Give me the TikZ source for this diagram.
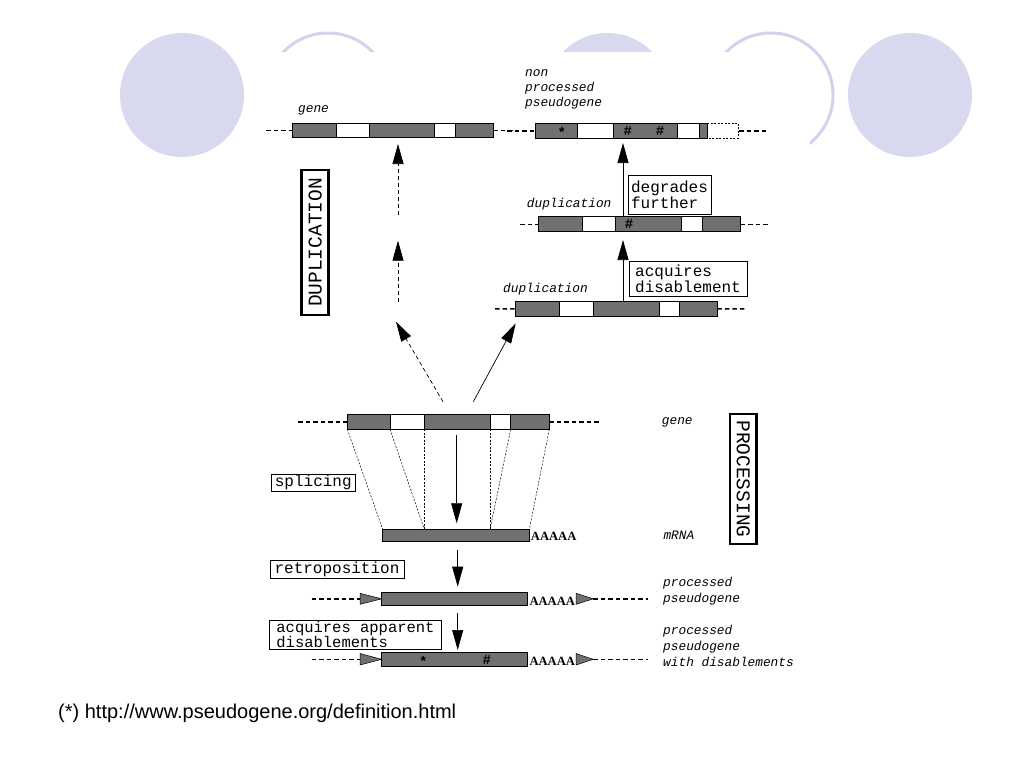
\documentclass[tikz,border=0pt]{standalone}
\usepackage{fontspec}
\setmainfont{Liberation Sans}
\setmonofont{Liberation Mono}
\newfontfamily\serifB{Liberation Serif}
\usetikzlibrary{arrows.meta}
\definecolor{circfill}{RGB}{216,216,238}
\definecolor{circline}{RGB}{210,210,236}
\definecolor{barg}{RGB}{112,112,112}
\tikzset{
 bar/.style={draw=black, line width=0.6pt, fill=barg, inner sep=0pt, outer sep=0pt, anchor=north west},
 wseg/.style={draw=black, line width=0.6pt, fill=white},
 flank/.style={line width=1.4pt, dash pattern=on 4.5pt off 3pt},
 splice/.style={line width=0.5pt, dash pattern=on 2pt off 1.5pt},
 duparr/.style={line width=0.7pt, dash pattern=on 4pt off 3pt, -{Triangle[length=20pt,width=11pt]}},
 solarr/.style={line width=0.7pt, -{Triangle[length=20pt,width=11pt]}},
 lbl/.style={font=\ttfamily\itshape\fontsize{12.8}{15}\selectfont, anchor=base west, inner sep=0pt},
 polya/.style={font=\serifB\bfseries\fontsize{12.6}{14}\selectfont, anchor=base west, inner sep=0pt},
 symb/.style={font=\ttfamily\bfseries\fontsize{14}{14}\selectfont, inner sep=0pt},
 boxlbl/.style={draw=black, line width=0.8pt, font=\ttfamily\fontsize{16}{16}\selectfont, align=left, inner sep=1pt},
 bigbox/.style={draw=black, line width=2.8pt, font=\ttfamily\fontsize{19.5}{20}\selectfont, inner sep=0pt},
 tri/.style={draw=black, line width=0.5pt, fill=barg}
}
\begin{document}
\begin{tikzpicture}[x=1pt,y=-1pt]
\useasboundingbox (0,0) rectangle (1024,768);
% background circles
\fill[circfill] (182,95) circle (62);
\draw[circline, line width=3pt] (328,95) circle (62);
\fill[circfill] (607.5,95) circle (62);
\draw[circline, line width=3pt] (771,95) circle (62);
\fill[circfill] (910,95) circle (62);
\fill[white] (262,52) rectangle (810,700);

% ---------- top gene ----------
\node[bar, minimum width=201pt, minimum height=14.4pt] (g1) at (292.3,123.3) {};
\draw[wseg] (336,123.3) rectangle (369,137.7);
\draw[wseg] (434,123.3) rectangle (455,137.7);
\draw[flank] (266,130.5) -- (g1.west);
\draw[flank] (g1.east) -- (513,130.5);
\node[lbl] (g1lbl) at (298,112.5) {gene};

% ---------- non processed pseudogene ----------
\node[bar, minimum width=172.3pt, minimum height=15pt] (np) at (535,123.3) {};
\draw[wseg] (577.7,123.3) rectangle (613.3,138.3);
\draw[wseg] (677.7,123.3) rectangle (699.3,138.3);
\draw[splice] (707.3,123.3) -- (738.3,123.3) -- (738.3,138.3) -- (707.3,138.3);
\draw[flank] (507,130.8) -- (np.west);
\draw[flank] (739,130.8) -- (767,130.8);
\node[symb] (npstar) at (561.7,132) {*};
\node[symb] (nph1) at (627.7,131) {\#};
\node[symb] (nph2) at (660,131) {\#};
\node[lbl] (np1) at (525,76.5) {non};
\node[lbl] (np2) at (525,91.5) {processed};
\node[lbl] (np3) at (525,106.5) {pseudogene};

% ---------- duplication 1 ----------
\node[bar, minimum width=202.4pt, minimum height=15pt] (d1) at (538.3,216.7) {};
\draw[wseg] (582,216.7) rectangle (615.7,231.7);
\draw[wseg] (681,216.7) rectangle (702.3,231.7);
\draw[flank] (520,224.2) -- (d1.west);
\draw[flank] (d1.east) -- (769,224.2);
\node[symb] (d1h) at (629,223.5) {\#};
\node[lbl] (d1lbl) at (526.7,207.5) {duplication};

% ---------- duplication 2 ----------
\node[bar, minimum width=201.6pt, minimum height=14.3pt] (d2) at (515.7,301.7) {};
\draw[wseg] (559,301.7) rectangle (593.3,316);
\draw[wseg] (659,301.7) rectangle (679,316);
\draw[flank] (495,308.8) -- (d2.west);
\draw[flank] (d2.east) -- (745,308.8);
\node[lbl] (d2lbl) at (503,292.5) {duplication};

% ---------- right column arrows and boxes ----------
\coordinate (r1a) at (623,216.7);
\coordinate (r1b) at (623,143);
\draw[solarr] (r1a) -- (r1b);
\coordinate (r2a) at (623,301.7);
\coordinate (r2b) at (623,240);
\draw[solarr] (r2a) -- (r2b);
\node[boxlbl, minimum width=83pt, minimum height=39pt] (degr) at (669.5,194.5) {degrades\\further};
\node[boxlbl, minimum width=118pt, minimum height=35pt] (acq) at (688,279.2) {acquires\\disablement};

% ---------- DUPLICATION ----------
\node[bigbox, rotate=90, minimum width=145pt, minimum height=27pt] (dupbox) at (315.3,242.5) {DUPLICATION};

% dashed duplication arrows
\coordinate (dA0) at (443,401.7);
\coordinate (dA1) at (396,321.7);
\draw[duparr] (dA0) -- (dA1);
\coordinate (dB0) at (398,301.7);
\coordinate (dB1) at (398,240.7);
\draw[duparr] (dB0) -- (dB1);
\coordinate (dC0) at (398,215);
\coordinate (dC1) at (398,144);
\draw[duparr] (dC0) -- (dC1);
\coordinate (sA0) at (473.3,401.7);
\coordinate (sA1) at (515.7,323.3);
\draw[solarr] (sA0) -- (sA1);

% ---------- lower gene ----------
\node[bar, minimum width=202pt, minimum height=15pt] (g2) at (347.3,414.3) {};
\draw[wseg] (390,414.3) rectangle (424.3,429.3);
\draw[wseg] (490,414.3) rectangle (510.7,429.3);
\draw[flank] (298,421.8) -- (g2.west);
\draw[flank] (g2.east) -- (600,421.8);
\node[lbl] (g2lbl) at (661.7,424.5) {gene};

% ---------- mRNA ----------
\node[bar, minimum width=146.6pt, minimum height=12.4pt] (mrna) at (382.7,529.3) {};
\node[polya] (mrnaA) at (530.7,540) {AAAAA};
\node[lbl] (mrnalbl) at (663.3,539) {mRNA};

% splicing lines
\draw[splice] (g2.south west) -- (mrna.north west);
\draw[splice] (390,429.3) -- (424.3,529.3);
\draw[splice] (424.3,429.3) -- (424.3,529.3);
\draw[splice] (490,429.3) -- (490,529.3);
\draw[splice] (510.7,429.3) -- (490,529.3);
\draw[splice] (g2.south east) -- (mrna.north east);
\coordinate (spA) at (456.7,435);
\coordinate (spB) at (456.7,523.3);
\draw[solarr] (spA) -- (spB);
\node[boxlbl, minimum width=83.3pt, minimum height=16pt] (splbox) at (313.3,482.5) {splicing};

% ---------- PROCESSING ----------
\node[bigbox, rotate=-90, minimum width=130pt, minimum height=26.7pt] (procbox) at (743.3,479) {PROCESSING};

% ---------- processed pseudogene ----------
\coordinate (rtA) at (457.7,550);
\coordinate (rtB) at (457.7,586.7);
\draw[solarr] (rtA) -- (rtB);
\node[boxlbl, minimum width=134pt, minimum height=18.3pt] (retro) at (337,569.2) {retroposition};
\node[bar, minimum width=146pt, minimum height=12.3pt] (pp) at (381.7,592.7) {};
\draw[tri] (360,593.3) -- (381.7,598.8) -- (360,604.3) -- cycle;
\draw[flank] (311.7,598.8) -- (360,598.8);
\node[polya] (ppA) at (529.3,605) {AAAAA};
\draw[tri] (576,593.3) -- (593.3,598.8) -- (576,604.3) -- cycle;
\draw[flank] (593.3,598.8) -- (648,598.8);
\node[lbl] (pp1) at (663,586) {processed};
\node[lbl] (pp2) at (663,602) {pseudogene};

% ---------- processed pseudogene with disablements ----------
\coordinate (adA) at (457.7,613.3);
\coordinate (adB) at (457.7,650);
\draw[solarr] (adA) -- (adB);
\node[boxlbl, minimum width=172.4pt, minimum height=29.3pt, font=\ttfamily\fontsize{15.5}{15}\selectfont] (appbox) at (355.5,634.7) {acquires apparent\\disablements};
\node[bar, minimum width=146pt, minimum height=13.3pt] (ppd) at (381.7,652.7) {};
\node[symb] (ppdstar) at (423.3,661) {*};
\node[symb] (ppdhash) at (486.7,659.5) {\#};
\draw[tri] (360,653.5) -- (381.7,659.3) -- (360,665) -- cycle;
\draw[flank] (311.7,659.3) -- (360,659.3);
\node[polya] (ppdA) at (529.3,665.5) {AAAAA};
\draw[tri] (576,653.5) -- (593.3,659.3) -- (576,665) -- cycle;
\draw[flank] (593.3,659.3) -- (648,659.3);
\node[lbl] (ppd1) at (663,634) {processed};
\node[lbl] (ppd2) at (663,650.5) {pseudogene};
\node[lbl] (ppd3) at (663,666.5) {with disablements};

% ---------- footnote ----------
\node[font=\fontsize{20}{22}\selectfont, anchor=base west, inner sep=0pt] (url) at (58,718) {(*) http://www.pseudogene.org/definition.html};
\end{tikzpicture}
\end{document}
